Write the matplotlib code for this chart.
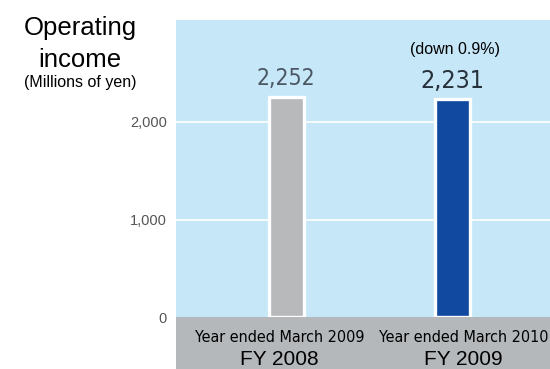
import matplotlib
matplotlib.use('Agg')
import matplotlib.pyplot as plt

# data
periods = ['Year ended March 2009', 'Year ended March 2010']
fiscal = ['FY 2008', 'FY 2009']
income = [2252, 2231]
value_labels = ['2,252', '2,231']
change_note = '(down 0.9%)'
yticks = [0, 1000, 2000]
ytick_labels = ['0', '1,000', '2,000']

sans = ['Liberation Sans', 'DejaVu Sans']
narrow = ['DejaVu Sans']

fig = plt.figure(figsize=(5.5, 3.69), dpi=100)
fig.patch.set_facecolor('white')
ax = fig.add_axes([0.32, 0.0, 0.68, 0.9458])
ax.set_facecolor('#c6e7f8')

x = list(range(len(income)))
ax.set_xlim(-0.663, 1.59)
ax.set_ylim(-533, 3046)

# white gridlines
for t in yticks[1:]:
    ax.axhline(t, color='white', linewidth=1.2, zorder=1)

bars = ax.bar(x, income, width=0.211, color=['#b7b9ba', '#1149a0'],
              edgecolor='white', linewidth=2.4, zorder=2)

# grey band below zero
ax.axhspan(-533, 0, color='#b4b8bb', zorder=3, linewidth=0)

# value labels
ax.text(x[0], income[0] + 195, value_labels[0], ha='center', va='center',
        fontsize=16.5, color='#4b5663', family=narrow, fontstretch='condensed', zorder=4)
ax.text(x[1], income[1] + 190, value_labels[1], ha='center', va='center',
        fontsize=18, color='#27313c', family=narrow, fontstretch='condensed', zorder=4)
ax.text(1.02, income[1] + 510, change_note, ha='center', va='center',
        fontsize=11.5, color='black', family=sans, zorder=4)

# category labels inside the band
label_x = [-0.04, 1.07]
for i in range(len(periods)):
    ax.text(label_x[i], -212, periods[i], ha='center', va='center',
            fontsize=11.5, color='black', family=narrow, fontstretch='condensed', zorder=4)
    ax.text(label_x[i], -435, fiscal[i], ha='center', va='center',
            fontsize=15, color='black', family=sans, zorder=4)

ax.set_xticks([])
ax.set_yticks(yticks)
ax.set_yticklabels(ytick_labels, fontsize=10.5, color='#555555', family=sans)
ax.tick_params(axis='y', length=0, pad=6.5)
for s in ax.spines.values():
    s.set_visible(False)

# y-axis title block
fig.text(80 / 550, 1 - 28 / 369, 'Operating', ha='center', va='center',
         fontsize=18.5, family=sans)
fig.text(80 / 550, 1 - 60 / 369, 'income', ha='center', va='center',
         fontsize=18.5, family=sans)
fig.text(80 / 550, 1 - 82 / 369, '(Millions of yen)', ha='center', va='center',
         fontsize=11.5, family=sans)

fig.savefig('out.png', dpi=100)
